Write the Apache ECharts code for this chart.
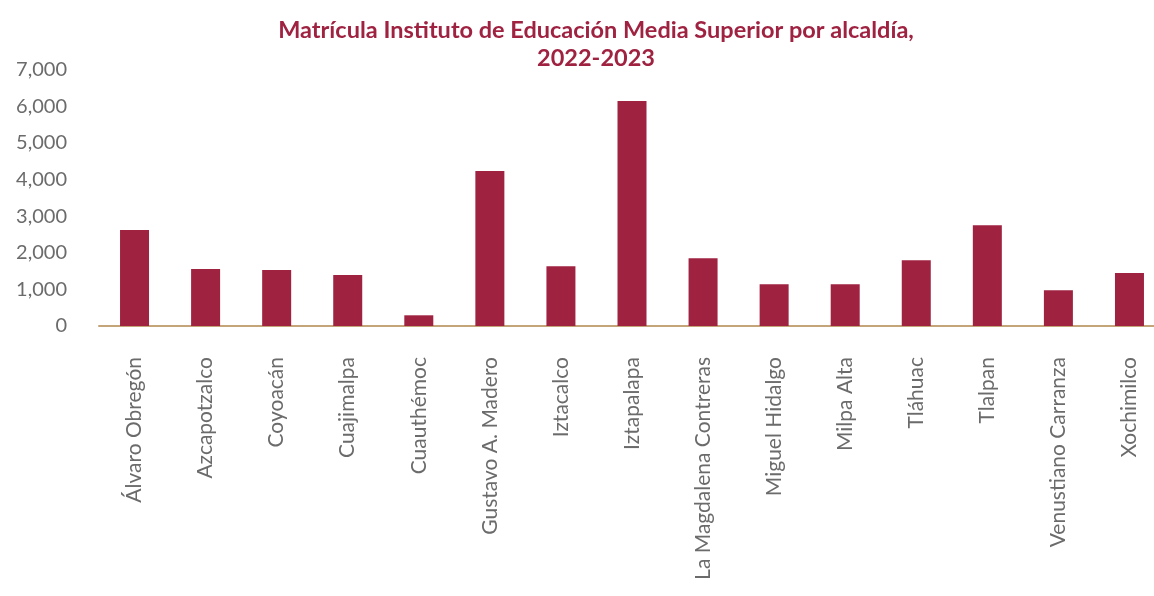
<!DOCTYPE html>
<html>
<head>
<meta charset="utf-8">
<script src="https://cdn.jsdelivr.net/npm/echarts@6/dist/echarts.min.js"></script>
<style>
html,body{margin:0;padding:0;background:#fff;overflow:hidden;width:1154px;height:596px;}
#chart{width:1166px;height:596px;}
</style>
</head>
<body>
<div id="chart"></div>
<script>
const titleText = "Matrícula Instituto de Educación Media Superior por alcaldía,\n2022-2023";
const categories = ["Álvaro Obregón","Azcapotzalco","Coyoacán","Cuajimalpa","Cuauthémoc","Gustavo A. Madero","Iztacalco","Iztapalapa","La Magdalena Contreras","Miguel Hidalgo","Milpa Alta","Tláhuac","Tlalpan","Venustiano Carranza","Xochimilco"];
const values = [2623,1557,1530,1393,292,4227,1631,6139,1850,1139,1139,1795,2750,976,1447];
const yMin = 0, yMax = 7000, yStep = 1000;

const chart = echarts.init(document.getElementById('chart'));
chart.setOption({
  animation: false,
  backgroundColor: '#ffffff',
  textStyle: { fontFamily: 'Lato' },
  title: {
    text: titleText,
    left: 591,
    top: 11,
    textAlign: 'center',
    textStyle: { color: '#9F2241', fontSize: 23.5, fontWeight: 'bold', fontFamily: 'Lato', lineHeight: 28 }
  },
  grid: { left: 99, right: 1, top: 69.5, bottom: 270, containLabel: false },
  xAxis: {
    type: 'category',
    data: categories,
    axisLine: { show: true, lineStyle: { color: '#C4A57A', width: 2 } },
    axisTick: { show: false },
    axisLabel: { rotate: 90, interval: 0, margin: 31, color: '#6b6b6b', fontSize: 21, fontFamily: 'Lato' }
  },
  yAxis: {
    type: 'value',
    min: yMin, max: yMax, interval: yStep,
    splitLine: { show: false },
    axisLine: { show: false },
    axisTick: { show: false },
    axisLabel: { color: '#6b6b6b', fontSize: 20, fontFamily: 'Lato', margin: 32,
      formatter: v => v.toLocaleString('en-US') }
  },
  series: [{
    type: 'bar',
    data: values,
    barWidth: 29,
    itemStyle: { color: '#9F2241' }
  }]
});
</script>
</body>
</html>
